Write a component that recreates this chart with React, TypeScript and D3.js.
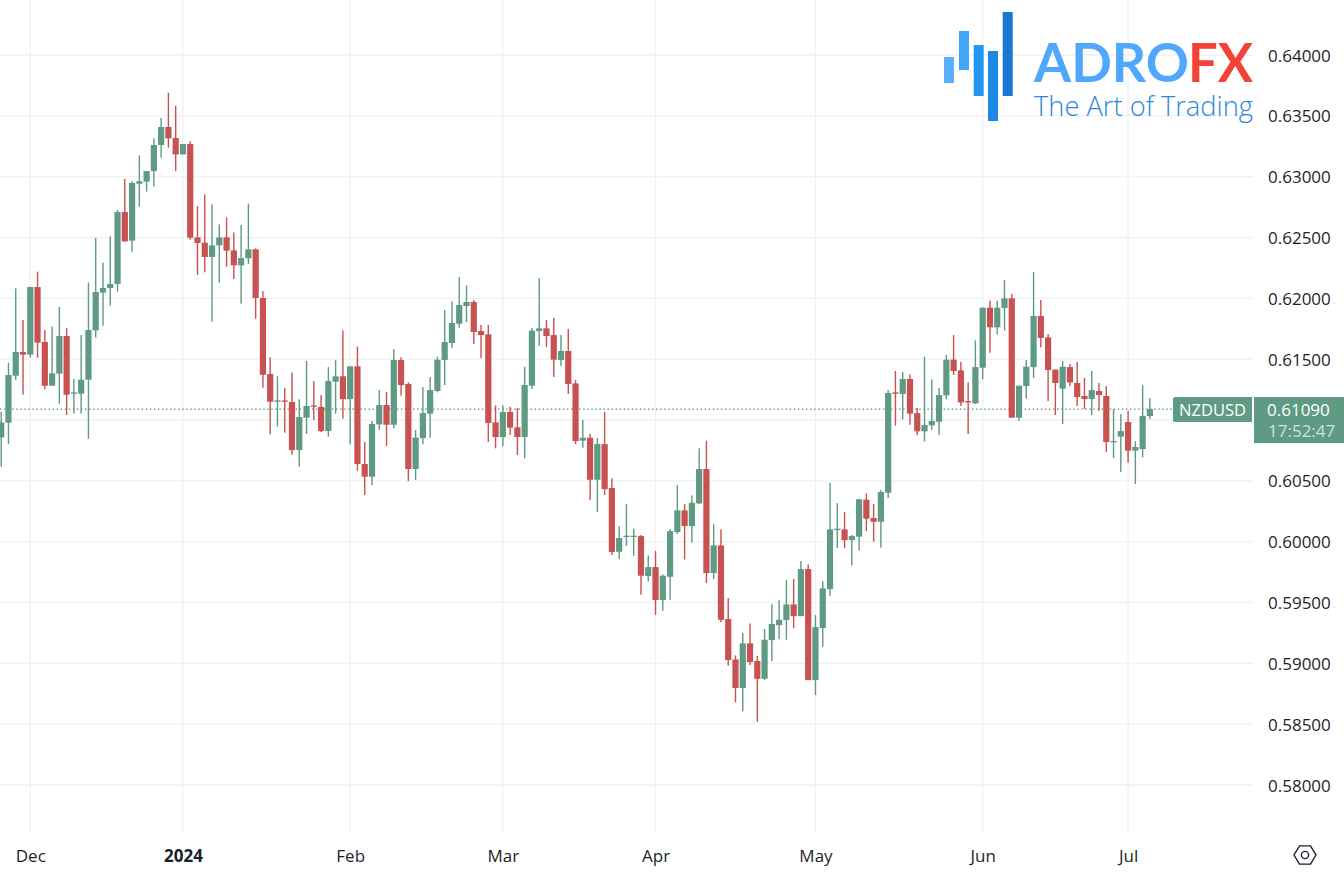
import React, { useEffect, useRef } from 'react';
import * as d3 from 'd3';

const priceTicks = [0.58, 0.585, 0.59, 0.595, 0.6, 0.605, 0.61, 0.615, 0.62, 0.625, 0.63, 0.635, 0.64];
const monthIndex = [4, 25, 48, 69, 90, 112, 135, 155];
const monthLabels = ['Dec', '2024', 'Feb', 'Mar', 'Apr', 'May', 'Jun', 'Jul'];

// daily NZDUSD candles
const opens = [
  0.60857, 0.60978, 0.61364, 0.61559, 0.61537, 0.62093, 0.61641, 0.61282, 0.61381, 0.6169,
  0.61216, 0.61216, 0.61331, 0.61737, 0.62047, 0.62085, 0.62118, 0.6271, 0.62474, 0.62942,
  0.62959, 0.63046, 0.6326, 0.63408, 0.63318, 0.63183, 0.63268, 0.62501, 0.62457, 0.6234,
  0.62435, 0.62501, 0.62394, 0.62271, 0.62329, 0.62403, 0.62003, 0.61378, 0.6115, 0.61161,
  0.61148, 0.60753, 0.61019, 0.6112, 0.61107, 0.60909, 0.61315, 0.61359, 0.61172, 0.61441,
  0.60638, 0.60534, 0.60964, 0.61123, 0.60961, 0.61493, 0.61296, 0.60597, 0.60852, 0.61052,
  0.61238, 0.61493, 0.61633, 0.61792, 0.61937, 0.6197, 0.61731, 0.61704, 0.60981, 0.6086,
  0.61066, 0.6094, 0.6086, 0.61282, 0.61731, 0.61753, 0.61698, 0.61493, 0.61567, 0.61301,
  0.6083, 0.60854, 0.60509, 0.60802, 0.60441, 0.59917, 0.60041, 0.60041, 0.60046, 0.59717,
  0.59791, 0.5952, 0.59712, 0.60079, 0.60257, 0.60128, 0.60315, 0.60597, 0.59742, 0.59969,
  0.59364, 0.59032, 0.58797, 0.59164, 0.59019, 0.58873, 0.59191, 0.59314, 0.59356, 0.59484,
  0.59388, 0.59775, 0.58862, 0.5929, 0.5961, 0.60098, 0.60101, 0.60013, 0.60041, 0.60345,
  0.60194, 0.60164, 0.60402, 0.61227, 0.61214, 0.61337, 0.61057, 0.60907, 0.60956, 0.60986,
  0.61203, 0.61496, 0.61408, 0.61156, 0.61137, 0.6143, 0.61923, 0.61762, 0.6192, 0.62,
  0.61019, 0.61279, 0.61435, 0.61855, 0.61679, 0.61414, 0.61257, 0.61435, 0.61304, 0.61197,
  0.61172, 0.61238, 0.61197, 0.60819, 0.60863, 0.60983, 0.60748, 0.60761, 0.61033,
];
const highs = [
  0.61068, 0.61471, 0.62082, 0.61822, 0.62096, 0.62219, 0.6174, 0.61767, 0.61929, 0.61756,
  0.61337, 0.61698, 0.62131, 0.62496, 0.62293, 0.6251, 0.62726, 0.62981, 0.62962, 0.63175,
  0.63046, 0.63315, 0.63482, 0.6369, 0.63583, 0.63268, 0.6329, 0.62759, 0.62855, 0.62773,
  0.62608, 0.62665, 0.6254, 0.62603, 0.62778, 0.62411, 0.6206, 0.61515, 0.61359, 0.61263,
  0.61389, 0.6117, 0.61485, 0.6132, 0.61205, 0.61435, 0.61493, 0.61737, 0.61441, 0.61603,
  0.60819, 0.60992, 0.61246, 0.6123, 0.61583, 0.61515, 0.61309, 0.60918, 0.61271, 0.61353,
  0.6152, 0.61904, 0.61975, 0.62175, 0.62107, 0.61986, 0.61781, 0.61781, 0.6112, 0.6112,
  0.61109, 0.61098, 0.61438, 0.61756, 0.62167, 0.61822, 0.61841, 0.61698, 0.61748, 0.61329,
  0.61, 0.60885, 0.60852, 0.61065, 0.6052, 0.60126, 0.60309, 0.60106, 0.60054, 0.59887,
  0.59923, 0.59731, 0.60104, 0.60465, 0.60309, 0.6038, 0.60767, 0.6083, 0.60145, 0.60101,
  0.59536, 0.59065, 0.59251, 0.59328, 0.59062, 0.59282, 0.59487, 0.5952, 0.59684, 0.59693,
  0.59841, 0.59813, 0.59397, 0.59676, 0.60482, 0.60317, 0.60243, 0.60054, 0.60353, 0.60397,
  0.60309, 0.60424, 0.61246, 0.61403, 0.61394, 0.61375, 0.61098, 0.6152, 0.61334, 0.61263,
  0.61534, 0.61698, 0.61477, 0.61309, 0.61655, 0.61926, 0.61981, 0.61981, 0.62151, 0.62036,
  0.61282, 0.61493, 0.62216, 0.61986, 0.61707, 0.61414, 0.61485, 0.6146, 0.61477, 0.61345,
  0.61403, 0.61304, 0.61279, 0.6109, 0.61049, 0.61074, 0.60824, 0.61287, 0.61181,
];
const lows = [
  0.60616, 0.60802, 0.61328, 0.61208, 0.61512, 0.61512, 0.61252, 0.61282, 0.61134, 0.61041,
  0.61054, 0.61054, 0.60846, 0.61679, 0.61775, 0.6194, 0.62055, 0.62466, 0.62383, 0.62753,
  0.62877, 0.62918, 0.63156, 0.63238, 0.63046, 0.63183, 0.62482, 0.62192, 0.62214, 0.61808,
  0.62129, 0.6226, 0.62159, 0.61956, 0.62282, 0.61833, 0.61265, 0.60882, 0.60945, 0.60896,
  0.60715, 0.60616, 0.60885, 0.61, 0.60901, 0.60863, 0.61052, 0.61011, 0.608, 0.60583,
  0.60383, 0.60465, 0.60918, 0.60786, 0.60931, 0.612, 0.60498, 0.60507, 0.608, 0.60855,
  0.61227, 0.61287, 0.61592, 0.61759, 0.61805, 0.61625, 0.61509, 0.60819, 0.60767, 0.60786,
  0.60876, 0.60712, 0.60685, 0.61255, 0.61608, 0.616, 0.61353, 0.61444, 0.61214, 0.60803,
  0.60772, 0.60342, 0.60243, 0.60383, 0.5989, 0.59857, 0.59964, 0.59882, 0.59564, 0.59673,
  0.59397, 0.59432, 0.5952, 0.60063, 0.59854, 0.59991, 0.60309, 0.5966, 0.59693, 0.59339,
  0.5898, 0.58679, 0.58605, 0.58986, 0.5852, 0.58862, 0.59019, 0.59199, 0.59194, 0.5929,
  0.59388, 0.58862, 0.58739, 0.59136, 0.59553, 0.59947, 0.59947, 0.59805, 0.59926, 0.60087,
  0.6, 0.5995, 0.60359, 0.60953, 0.61005, 0.60961, 0.60876, 0.60824, 0.60918, 0.60876,
  0.6117, 0.6137, 0.61115, 0.60885, 0.61131, 0.61334, 0.61553, 0.61704, 0.61734, 0.61019,
  0.60992, 0.61175, 0.61345, 0.61597, 0.61156, 0.61041, 0.60967, 0.61279, 0.61115, 0.6109,
  0.61041, 0.61074, 0.60737, 0.60687, 0.60572, 0.60649, 0.60474, 0.60693, 0.61008,
];
const closes = [
  0.6098, 0.6137, 0.61559, 0.61537, 0.62093, 0.61636, 0.61282, 0.61383, 0.6169, 0.61208,
  0.61227, 0.61331, 0.6174, 0.62052, 0.62085, 0.62118, 0.6271, 0.62468, 0.62948, 0.62962,
  0.63046, 0.6326, 0.63408, 0.63315, 0.63183, 0.63268, 0.62498, 0.62455, 0.6234, 0.62435,
  0.62501, 0.62392, 0.62271, 0.62331, 0.62403, 0.62003, 0.61372, 0.6115, 0.61161, 0.6115,
  0.60753, 0.61024, 0.61115, 0.61109, 0.60909, 0.6132, 0.61359, 0.61172, 0.61441, 0.60638,
  0.60534, 0.60967, 0.61123, 0.60961, 0.61493, 0.61287, 0.60597, 0.60855, 0.61057, 0.61246,
  0.61496, 0.61641, 0.61797, 0.61945, 0.6197, 0.61723, 0.61698, 0.60975, 0.6086, 0.61066,
  0.60937, 0.6086, 0.61287, 0.61734, 0.61753, 0.6169, 0.61496, 0.61567, 0.61296, 0.60827,
  0.60854, 0.60509, 0.60802, 0.60432, 0.59915, 0.6003, 0.60049, 0.60049, 0.5972, 0.59791,
  0.5952, 0.5972, 0.60087, 0.60257, 0.60128, 0.6032, 0.60597, 0.59742, 0.59969, 0.59358,
  0.59027, 0.58797, 0.59164, 0.5901, 0.58873, 0.59194, 0.59323, 0.59358, 0.59484, 0.59388,
  0.59775, 0.58862, 0.59298, 0.59616, 0.60101, 0.60106, 0.60013, 0.60046, 0.60348, 0.60189,
  0.60164, 0.60408, 0.61222, 0.61216, 0.61337, 0.61052, 0.60907, 0.60959, 0.60992, 0.61205,
  0.61496, 0.61403, 0.61145, 0.61145, 0.61435, 0.61923, 0.61762, 0.61923, 0.62, 0.61019,
  0.61282, 0.61438, 0.61855, 0.61674, 0.61411, 0.61304, 0.61438, 0.61309, 0.61189, 0.61172,
  0.61246, 0.61205, 0.60819, 0.60827, 0.60909, 0.60748, 0.60778, 0.61033, 0.6109,
];

const lastPrice = 0.6109;
const symbol = 'NZDUSD';
const countdown = '17:52:47';

const logoBars = [
  { x: 944, top: 57, bottom: 83, fill: '#5caffa' },
  { x: 959, top: 31, bottom: 70, fill: '#42a5f5' },
  { x: 973.7, top: 45, bottom: 96, fill: '#2196f3' },
  { x: 988, top: 51, bottom: 121, fill: '#1e88e5' },
  { x: 1002.7, top: 12, bottom: 96, fill: '#1976d2' },
];

const UP = '#5f9a85';
const DOWN = '#c85151';
const GRID = '#f0f1f3';
const TEXT = '#1b1f2a';
const FONT = '"Open Sans", sans-serif';

const App = () => {
  const ref = useRef<SVGSVGElement>(null);

  useEffect(() => {
    const svg = d3.select(ref.current);
    svg.selectAll('*').remove();

    const x = d3.scaleLinear().domain([0, 158]).range([1.2, 1149.9]);
    const y = d3.scaleLinear().domain([0.58, 0.64]).range([785, 55]);

    // grid
    const grid = svg.append('g').attr('stroke', GRID).attr('stroke-width', 1.4);
    grid.selectAll('line.h').data(priceTicks).enter().append('line').attr('class', 'h')
      .attr('x1', 0).attr('x2', 1253)
      .attr('y1', d => y(d)).attr('y2', d => y(d));
    grid.selectAll('line.v').data(monthIndex).enter().append('line').attr('class', 'v')
      .attr('x1', d => x(d)).attr('x2', d => x(d))
      .attr('y1', 0).attr('y2', 832);

    // logo sits under the candles and price labels
    const logo = svg.append('g');
    logo.selectAll('rect').data(logoBars).enter().append('rect')
      .attr('x', d => d.x).attr('width', 10)
      .attr('y', d => d.top).attr('height', d => d.bottom - d.top)
      .attr('fill', d => d.fill);
    logo.append('text').text('ADRO')
      .attr('x', 1034).attr('y', 82)
      .attr('textLength', 155).attr('lengthAdjust', 'spacingAndGlyphs')
      .attr('font-family', 'Lato, sans-serif').attr('font-weight', 700)
      .attr('font-size', 54).attr('fill', '#4fa8fd');
    logo.append('text').text('FX')
      .attr('x', 1188).attr('y', 82)
      .attr('textLength', 65).attr('lengthAdjust', 'spacingAndGlyphs')
      .attr('font-family', 'Lato, sans-serif').attr('font-weight', 700)
      .attr('font-size', 54).attr('fill', '#f44336');
    logo.append('text').text('The Art of Trading')
      .attr('x', 1034).attr('y', 116)
      .attr('textLength', 219).attr('lengthAdjust', 'spacingAndGlyphs')
      .attr('font-family', FONT).attr('font-weight', 300)
      .attr('font-size', 27).attr('fill', '#2f86dc');

    // last price line
    svg.append('line')
      .attr('x1', 0).attr('x2', 1173)
      .attr('y1', y(lastPrice)).attr('y2', y(lastPrice))
      .attr('stroke', '#4a8c76').attr('stroke-width', 1.3).attr('stroke-dasharray', '1.4 2.65');

    // candles
    const candles = svg.append('g').selectAll('g').data(d3.range(opens.length)).enter().append('g')
      .attr('fill', i => (closes[i] >= opens[i] ? UP : DOWN));
    candles.append('rect')
      .attr('x', i => x(i) - 0.7).attr('width', 1.4)
      .attr('y', i => y(highs[i])).attr('height', i => y(lows[i]) - y(highs[i]));
    candles.append('rect')
      .attr('x', i => x(i) - 3.1).attr('width', 6.2)
      .attr('y', i => y(Math.max(opens[i], closes[i])))
      .attr('height', i => Math.max(1.3, Math.abs(y(opens[i]) - y(closes[i]))));

    // price axis, the 0.61000 label is covered by the last price box
    const yAxis = d3.axisRight(y).tickValues(priceTicks.filter(d => d !== 0.61))
      .tickFormat(d3.format('.5f')).tickSize(0).tickPadding(0);
    const yG = svg.append('g').attr('transform', 'translate(1268,0.7)').call(yAxis);
    yG.select('.domain').remove();
    yG.selectAll('text').attr('font-family', FONT).attr('font-size', 17).attr('fill', TEXT);

    // time axis
    const xAxis = d3.axisBottom(x).tickValues(monthIndex)
      .tickFormat((_, i) => monthLabels[i]).tickSize(0).tickPadding(0);
    const xG = svg.append('g').attr('transform', 'translate(0,850)').call(xAxis);
    xG.select('.domain').remove();
    xG.selectAll('text').attr('font-family', FONT).attr('font-size', 17).attr('fill', TEXT)
      .attr('font-weight', (_, i) => (monthLabels[i] === '2024' ? 700 : 400));

    // last price labels
    const yLast = y(lastPrice);
    svg.append('path')
      .attr('d', `M1252 ${yLast - 12}V${yLast + 13}H1175a2 2 0 0 1-2-2V${yLast - 10}a2 2 0 0 1 2-2Z`)
      .attr('fill', UP);
    svg.append('rect')
      .attr('x', 1254).attr('y', yLast - 12).attr('width', 90).attr('height', 46)
      .attr('fill', UP);
    svg.append('text').text(symbol)
      .attr('x', 1212.5).attr('y', yLast + 7).attr('text-anchor', 'middle')
      .attr('font-family', FONT).attr('font-size', 16.5).attr('font-weight', 500).attr('fill', '#fff');
    svg.append('text').text(d3.format('.5f')(lastPrice))
      .attr('x', 1267).attr('y', yLast + 7)
      .attr('font-family', FONT).attr('font-size', 17).attr('font-weight', 500).attr('fill', '#fff');
    svg.append('text').text(countdown)
      .attr('x', 1268).attr('y', yLast + 28)
      .attr('font-family', FONT).attr('font-size', 17).attr('fill', '#cfe1da');

    // settings icon
    const hex = d3.range(6).map(k => {
      const a = (k * Math.PI) / 3;
      return [1305 + 11 * Math.cos(a), 855 + 10.5 * Math.sin(a)] as [number, number];
    });
    const icon = svg.append('g').attr('fill', 'none').attr('stroke', TEXT).attr('stroke-width', 1.4);
    icon.append('path').attr('d', d3.line().curve(d3.curveLinearClosed)(hex));
    icon.append('circle').attr('cx', 1305).attr('cy', 855).attr('r', 3.6);
  }, []);

  return (
    <svg
      ref={ref}
      width={1344}
      height={884}
      style={{ position: 'absolute', left: 0, top: 0, display: 'block', background: '#fff' }}
    />
  );
};

export default App;
